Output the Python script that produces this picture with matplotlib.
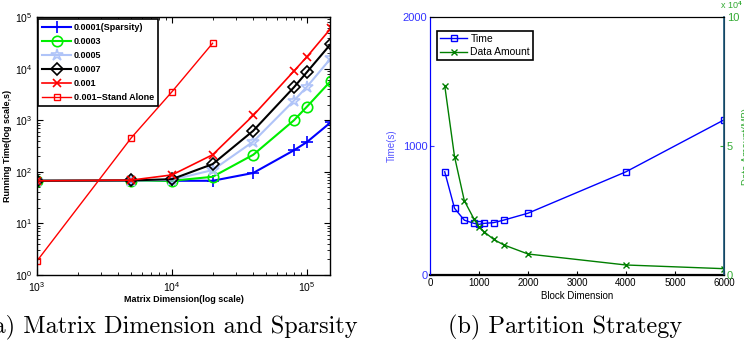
import matplotlib
matplotlib.use('Agg')
import matplotlib.pyplot as plt
import numpy as np

plt.rcParams['font.family'] = ['Liberation Sans', 'DejaVu Sans']
plt.rcParams['mathtext.fontset'] = 'custom'
plt.rcParams['mathtext.rm'] = 'Liberation Sans:bold'
plt.rcParams['mathtext.bf'] = 'Liberation Sans:bold'

# (a) matrix dimension vs running time
dims = [1000, 5000, 10000, 20000, 40000, 80000, 100000, 150000]
t_0001 = [67, 67, 67, 67, 95, 261, 378, 910]
t_0003 = [67, 67, 67, 80, 214, 995, 1830, 5750]
t_0005 = [67, 67, 70, 108, 385, 2390, 4460, 15800]
t_0007 = [67, 68, 72, 141, 625, 4340, 8570, 30000]
t_001 = [67, 69, 87, 214, 1240, 8950, 17000, 60000]
stand_dims = [1000, 5000, 10000, 20000]
t_stand = [1.87, 457, 3560, 31000]

# (b) block dimension vs time / data amount
blocks = [300, 500, 700, 900, 1000, 1100, 1300, 1500, 2000, 4000, 6000]
block_time = [800, 517, 425, 400, 393, 400, 406, 425, 479, 800, 1202]
block_data = [73400, 45900, 28800, 21600, 18700, 16800, 13800, 11700, 8140, 3880, 2450]

fig = plt.figure(figsize=(7.44, 3.47), dpi=100)

# ---- left panel ----
ax = fig.add_axes([0.0497, 0.2075, 0.3938, 0.7435])
ax.plot(dims, t_0001, '-+', color='#0000ff', ms=8, mew=1.2, label='0.0001(Sparsity)')
ax.plot(dims, t_0003, '-o', color='#00ee00', ms=7.5, mfc='none', mew=1.2, label='0.0003')
ax.plot(dims, t_0005, '-*', color='#b0c4f8', ms=9, mfc='none', mew=1.2, lw=1.5, label='0.0005')
ax.plot(dims, t_0007, '-D', color='black', ms=6.5, mfc='none', mew=1.2, label='0.0007')
ax.plot(dims, t_001, '-x', color='#ff0000', ms=5.5, mew=1.2, lw=1.2, label='0.001')
ax.plot(stand_dims, t_stand, '-s', color='#ff0000', ms=4, mfc='none', mew=1, lw=1, label='0.001\u2212Stand Alone')
ax.set_xscale('log')
ax.set_yscale('log')
ax.set_xlim(1000, 1.48e5)
ax.set_ylim(1, 1e5)
ax.tick_params(which='both', direction='in', top=True, right=True, labelsize=7.5)
ax.tick_params(which='major', length=4)
ax.tick_params(which='minor', length=2)
for s in ax.spines.values():
    s.set_linewidth(1.0)
ax.set_xlabel('Matrix Dimension(log scale)', fontsize=6.5, fontweight='bold', labelpad=1)
ax.set_ylabel('Running Time(log scale,s)', fontsize=6.5, fontweight='bold', labelpad=2)
leg = ax.legend(loc='upper left', bbox_to_anchor=(0.004, 0.992), prop={'weight': 'bold', 'size': 6.5},
                fancybox=False, edgecolor='black', framealpha=1, handlelength=3.2,
                borderaxespad=0, labelspacing=0.55, borderpad=0.45, handletextpad=0.3)
leg.get_frame().set_linewidth(1.2)

# ---- right panel ----
bx = fig.add_axes([0.578, 0.2075, 0.395, 0.7435])
bx2 = bx.twinx()
l1, = bx.plot(blocks, block_time, '-s', color='#0000ff', ms=4, mfc='none', mew=1, lw=1, label='Time')
l2, = bx2.plot(blocks, block_data, '-x', color='#007f00', ms=4.5, mew=1, lw=1, label='Data Amount')
bx.set_xlim(0, 6000)
bx.set_ylim(0, 2000)
bx2.set_ylim(0, 1e5)
bx.set_xticks(np.arange(0, 6001, 1000))
bx.set_yticks([0, 1000, 2000])
bx2.set_yticks([0, 5e4, 1e5])
bx2.set_yticklabels(['0', '5', '10'])
bx.tick_params(axis='x', direction='in', length=3, labelsize=7, pad=2, top=False)
bx.tick_params(axis='y', direction='in', length=3, colors='#3333ff', labelsize=8, pad=2)
bx2.tick_params(axis='y', direction='in', length=3, colors='#33aa33', labelsize=8, pad=2)
bx.spines['left'].set_color('#0000ff')
bx.spines['bottom'].set_linewidth(1.6)
bx2.spines['right'].set_color('#1a5577')
bx2.spines['right'].set_linewidth(1.2)
bx2.spines['left'].set_color('#0000ff')
bx.set_xlabel('Block Dimension', fontsize=7, labelpad=2)
bx.set_ylabel('Time(s)', fontsize=7, color='#5555ff', labelpad=4)
bx2.set_ylabel('Data Amount(MB)', fontsize=7, color='#33aa33', labelpad=2)
fig.text(0.998, 0.968, 'x 10$^{4}$', fontsize=6.5, color='#33aa33',
         ha='right', va='bottom')
leg2 = bx.legend(handles=[l1, l2], loc='upper left', bbox_to_anchor=(0.024, 0.946),
                 fontsize=7.5, fancybox=False, edgecolor='black', framealpha=1,
                 handlelength=2.6, borderaxespad=0, labelspacing=0.3, borderpad=0.3,
                 handletextpad=0.3)
leg2.get_frame().set_linewidth(1.2)

# captions
fig.text(358 / 744, 0.055, '(a) Matrix Dimension and Sparsity', fontsize=17.5,
         family='cmr10', ha='right', va='center')
fig.text(565 / 744, 0.055, '(b) Partition Strategy', fontsize=17.5,
         family='cmr10', ha='center', va='center')

fig.savefig('out.png', dpi=100)
